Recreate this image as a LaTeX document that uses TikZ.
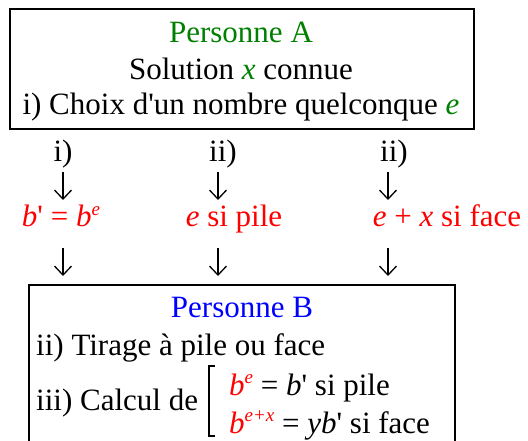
\documentclass[tikz,border=0pt]{standalone}
\usepackage{fontspec}
\setmainfont{Liberation Serif}
\usetikzlibrary{arrows.meta}
\definecolor{agreen}{RGB}{0,128,0}
\definecolor{ared}{RGB}{255,0,0}
\definecolor{ablue}{RGB}{0,0,255}
\newcommand\supx[1]{\raisebox{12pt}{\fontsize{19}{19}\selectfont\textit{#1}}}
\newcommand\sq{\textquotesingle}
\begin{document}
\begin{tikzpicture}[x=1pt,y=-1pt,
  txt/.style={inner sep=0pt, anchor=base, font=\fontsize{31}{36}\selectfont},
  txtl/.style={txt, anchor=base west},
  boxst/.style={draw, line width=2pt, inner sep=0pt},
  darr/.style={-{Straight Barb[length=9pt,width=17pt]}, line width=1.3pt}]
\useasboundingbox (0,0) rectangle (528,441);
% Box A
\node[boxst, minimum width=464pt, minimum height=120pt] (boxA) at (242,69) {};
\node[txt, text=agreen] (pa) at (241,43) {Personne A};
\node[txt] (sol) at (241,80) {Solution \textcolor{agreen}{\textit{x}} connue};
\node[txt] (choix) at (241,115) {i) Choix d\sq un nombre quelconque \textcolor{agreen}{\textit{e}}};
% middle row
\node[txt] (l1) at (63,162) {i)};
\node[txt] (l2) at (223,162) {ii)};
\node[txt] (l3) at (394,162) {ii)};
\node[txt, text=ared] (r1) at (61,227) {\textit{b}\sq{} = \textit{b}\supx{e}};
\node[txt, text=ared] (r2) at (234,227) {\textit{e} si pile};
\node[txt, text=ared] (r3) at (447,227) {\textit{e} + \textit{x} si face};
\coordinate (a1t) at (63,172);  \coordinate (a1b) at (63,200);
\coordinate (a2t) at (218,172); \coordinate (a2b) at (218,200);
\coordinate (a3t) at (388,172); \coordinate (a3b) at (388,200);
\coordinate (b1t) at (63,248);  \coordinate (b1b) at (63,276);
\coordinate (b2t) at (218,248); \coordinate (b2b) at (218,276);
\coordinate (b3t) at (388,248); \coordinate (b3b) at (388,276);
\draw[darr] (a1t) -- (a1b);
\draw[darr] (a2t) -- (a2b);
\draw[darr] (a3t) -- (a3b);
\draw[darr] (b1t) -- (b1b);
\draw[darr] (b2t) -- (b2b);
\draw[darr] (b3t) -- (b3b);
% Box B
\node[boxst, minimum width=426pt, minimum height=164pt] (boxB) at (242,367) {};
\node[txt, text=ablue] (pb) at (242,317) {Personne B};
\node[txtl] (tir) at (36,355) {ii) Tirage à pile ou face};
\node[txtl] (calc) at (36,410) {iii) Calcul de};
\coordinate (brt) at (215,366);
\coordinate (brb) at (215,436);
\draw[line width=1.4pt] (brt) -- ++(-6,0) -- ([xshift=-6pt]brb) -- (brb);
\node[txtl] (c1) at (229,395) {\textcolor{ared}{\textit{b}\supx{e}} = \textit{b}\sq{} si pile};
\node[txtl] (c2) at (229,433) {\textcolor{ared}{\textit{b}\supx{e+x}} = \textit{yb}\sq{} si face};
\end{tikzpicture}
\end{document}
